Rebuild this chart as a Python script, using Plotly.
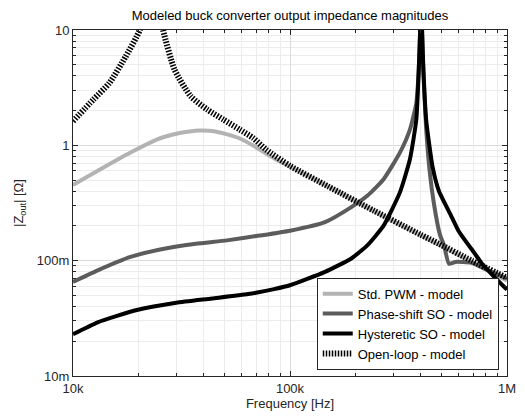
import plotly.graph_objects as go

# Frequencies (Hz) and |Zout| (ohm)
f_std = [10000, 13000, 18400, 24300, 27500, 31000, 34500, 38100, 42500, 46900,
         52500, 59800, 68000, 77500, 88000, 100000, 150000, 243000, 400000,
         687000, 1000000]
z_std = [0.452, 0.601, 0.865, 1.12, 1.21, 1.28, 1.32, 1.345, 1.335, 1.30,
         1.23, 1.13, 0.99, 0.85, 0.74, 0.655, 0.44, 0.27, 0.166,
         0.098, 0.067]

f_phase = [10000, 13000, 18400, 25200, 36800, 51200, 72300, 100000, 145000,
           191000, 227000, 270000, 321000, 357000, 382000, 392000, 398000, 402000,
           406000, 412000, 424000, 440000, 462000, 490000, 513000, 540000, 578000,
           687000, 800000, 1000000]
z_phase = [0.0655, 0.0824, 0.1077, 0.125, 0.140, 0.150, 0.165, 0.182, 0.216,
           0.290, 0.365, 0.509, 0.865, 1.37, 2.33, 4.5, 10.0, 40.0,
           10.0, 4.2, 1.4, 0.6, 0.30, 0.17, 0.135, 0.094, 0.0975,
           0.096, 0.084, 0.07]

f_hyst = [10000, 13000, 19700, 29900, 43700, 64100, 84500, 100000, 145000,
          191000, 227000, 270000, 321000, 357000, 382000, 392000, 398000, 402000,
          406000, 412000, 424000, 454000, 486000, 550000, 599000, 711000, 764000,
          847000, 1000000]
z_hyst = [0.023, 0.0292, 0.0373, 0.0432, 0.047, 0.0513, 0.0567, 0.0612, 0.080,
          0.104, 0.1355, 0.201, 0.391, 0.757, 1.67, 4.5, 10.0, 40.0,
          10.0, 4.5, 1.67, 0.65, 0.40, 0.25, 0.18, 0.115, 0.095,
          0.077, 0.056]

f_open = [10000, 12400, 14700, 17500, 20300, 21800, 23000, 24500, 26000, 29400,
          34900, 41600, 49400, 58700, 67500, 77500, 100000, 150000, 243000,
          400000, 486000, 687000, 1000000]
z_open = [1.62, 2.49, 3.47, 5.9, 10.0, 18.0, 40.0, 18.0, 10.0, 4.52,
          2.66, 2.04, 1.67, 1.37, 1.16, 0.92, 0.664, 0.44, 0.272,
          0.168, 0.140, 0.100, 0.071]

names = ["Std. PWM - model", "Phase-shift SO - model",
         "Hysteretic SO - model", "Open-loop - model"]

FONT = "Liberation Sans, Arial, Helvetica, sans-serif"
TXT = "#262626"

fig = go.Figure()
fig.add_trace(go.Scatter(x=f_std, y=z_std, mode="lines", name=names[0],
                         line=dict(color="#b3b3b3", width=4, shape="spline", smoothing=0.8)))
fig.add_trace(go.Scatter(x=f_phase, y=z_phase, mode="lines", name=names[1],
                         line=dict(color="#5c5c5c", width=4, shape="spline", smoothing=0.5)))
fig.add_trace(go.Scatter(x=f_hyst, y=z_hyst, mode="lines", name=names[2],
                         line=dict(color="#000000", width=4, shape="spline", smoothing=0.5)))
fig.add_trace(go.Scatter(x=f_open, y=z_open, mode="lines", name=names[3],
                         line=dict(color="#000000", width=6, dash="1.5px,1.5px",
                                   shape="spline", smoothing=0.6)))

axis_common = dict(
    type="log",
    dtick=1,
    showline=True, linecolor=TXT, linewidth=1, mirror="ticks",
    ticks="inside", ticklen=5, tickcolor=TXT,
    showgrid=True, gridcolor="#dcdcdc", gridwidth=1,
    zeroline=False,
    tickfont=dict(family=FONT, size=13, color=TXT),
    minor=dict(ticks="inside", ticklen=3, tickcolor=TXT, showgrid=True,
               gridcolor="#ececec", gridwidth=1),
)

fig.update_xaxes(**axis_common, range=[4, 6], exponentformat="SI",
                 title=dict(text="Frequency [Hz]", font=dict(family=FONT, size=13, color=TXT),
                            standoff=4))
fig.update_yaxes(**axis_common, range=[-2, 1],
                 labelalias={"0.01": "10m", "0.1": "100m"},
                 title=dict(text="|Z<sub>out</sub>| [Ω]", font=dict(family=FONT, size=13, color=TXT),
                            standoff=10))

fig.update_layout(
    width=525, height=418,
    margin=dict(l=73, r=9, t=30, b=40),
    paper_bgcolor="white", plot_bgcolor="white",
    title=dict(text="Modeled buck converter output impedance magnitudes",
               x=0.5, xref="paper", xanchor="center",
               y=1 - 15 / 418, yref="container", yanchor="middle",
               font=dict(family=FONT, size=13, color="#000000")),
    legend=dict(x=0.981, y=0.018, xanchor="right", yanchor="bottom",
                bgcolor="white", bordercolor=TXT, borderwidth=1,
                font=dict(family=FONT, size=13, color="#000000"),
                tracegroupgap=0),
    showlegend=True,
)

fig.write_html("out.html", config={"displayModeBar": False},
               post_script="document.body.style.margin='0';")
